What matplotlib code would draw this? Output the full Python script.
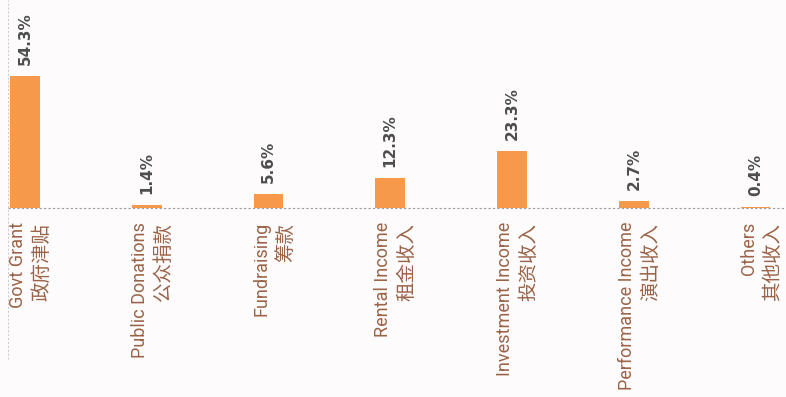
import matplotlib.pyplot as plt
import numpy as np

# Income breakdown (share of total, %)
categories_en = ['Govt Grant', 'Public Donations', 'Fundraising', 'Rental Income',
                 'Investment Income', 'Performance Income', 'Others']
categories_zh = ['政府津贴', '公众捐款', '筹款', '租金收入', '投资收入', '演出收入', '其他收入']
shares = [54.3, 1.4, 5.6, 12.3, 23.3, 2.7, 0.4]

BAR_COLOR = '#F7994A'
VALUE_COLOR = '#4d4d4d'
LABEL_COLOR = '#9a6347'
BG = '#fdfbfc'

fig = plt.figure(figsize=(7.86, 3.97), dpi=100, facecolor=BG)
ax = fig.add_axes([0.0102, 0.476, 0.9898, 0.524])
ax.set_facecolor(BG)

x = np.arange(len(shares))
ax.bar(x, shares, width=0.245, color=BAR_COLOR, zorder=2)

ax.set_xlim(-0.14, 6.25)
ax.set_ylim(0, 85.6)

for s in ['top', 'right', 'left', 'bottom']:
    ax.spines[s].set_visible(False)
ax.set_xticks([])
ax.set_yticks([])

# dotted baseline and left rule
ax.axhline(0, color='#9a9a9a', lw=0.8, ls=(0, (2, 2)), zorder=3, clip_on=False)
ax.plot([-0.14, -0.14], [-62, 85.6], color='#c8c8c8', lw=0.7, ls=(0, (2, 2)),
        clip_on=False, zorder=1)

# value labels
for xi, v in zip(x, shares):
    ax.annotate(f'{v}%', (xi, v), xytext=(0, 8), textcoords='offset points',
                rotation=90, ha='center', va='bottom', fontsize=11,
                fontweight='bold', color=VALUE_COLOR, family='DejaVu Sans')

# category labels: English column left, Chinese column right, both hanging from the baseline
for xi, en, zh in zip(x, categories_en, categories_zh):
    ax.annotate(en, (xi, 0), xytext=(-5, -10), textcoords='offset points',
                rotation=90, ha='center', va='top', fontsize=13,
                color=LABEL_COLOR, family=['Roboto', 'DejaVu Sans'],
                annotation_clip=False)
    ax.annotate(zh, (xi, 0), xytext=(12, -11), textcoords='offset points',
                rotation=90, ha='center', va='top', fontsize=14,
                color=LABEL_COLOR, family=['Noto Sans CJK SC', 'DejaVu Sans'],
                annotation_clip=False)

fig.savefig('out.png', dpi=100, facecolor=BG)
